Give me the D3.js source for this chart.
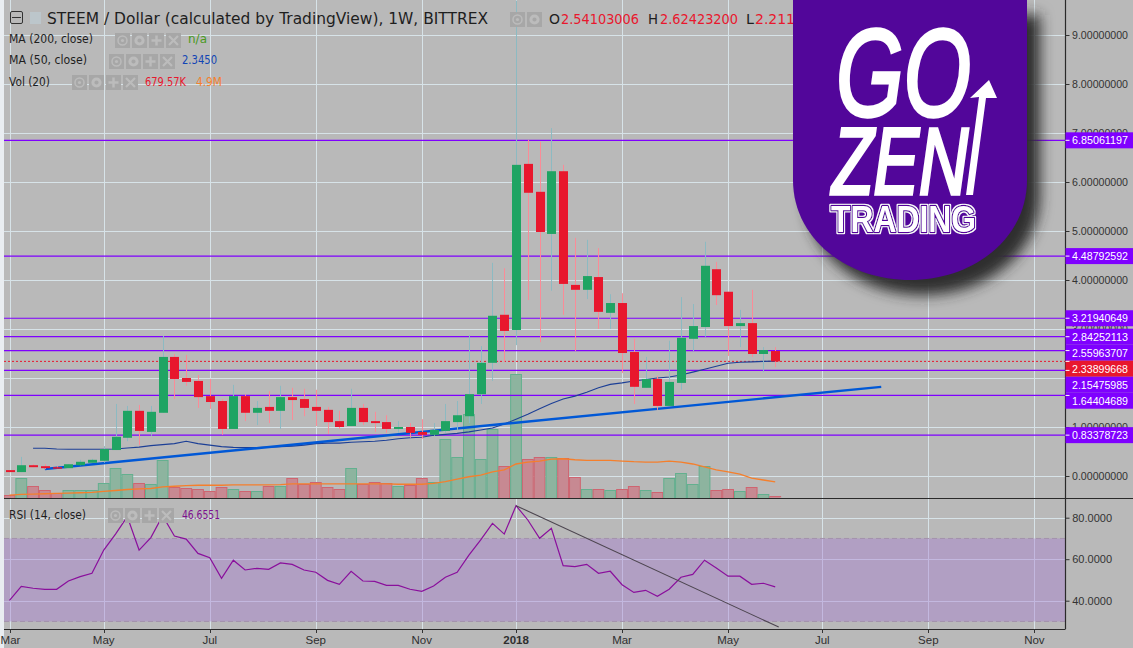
<!DOCTYPE html>
<html><head><meta charset="utf-8">
<script src="https://cdnjs.cloudflare.com/ajax/libs/d3/7.8.5/d3.min.js"></script>
<style>html,body{margin:0;padding:0;background:#b9b9b9;overflow:hidden}svg{display:block}</style>
</head><body><div id="c"></div>
<script>
// Weekly candles, index 0 = first week of March 2017
const open=[.12,.08,.22,.20,.18,.16,.22,.27,.31,.53,.78,1.33,.90,1.29,2.43,2.00,1.94,1.63,1.53,.96,1.63,1.29,1.41,1.33,1.61,1.57,1.41,1.35,1.12,1.02,1.39,1.12,1.10,.96,1.00,.90,.84,.92,1.10,1.22,1.67,2.31,3.29,2.98,6.37,5.80,4.94,6.22,3.90,3.80,4.06,3.33,3.53,2.53,1.80,1.98,1.43,1.90,2.80,3.04,4.22,3.76,3.06,3.12,2.49,2.55];
const close=[.08,.22,.18,.16,.16,.24,.29,.33,.55,.80,1.33,.92,1.31,2.43,1.98,1.92,1.61,1.51,.96,1.63,1.29,1.39,1.33,1.61,1.55,1.39,1.33,1.10,1.00,1.39,1.10,1.08,.96,1.00,.88,.84,.94,1.12,1.24,1.67,2.31,3.27,2.96,6.35,5.78,4.98,6.22,3.92,3.80,4.08,3.35,3.53,2.51,1.82,1.98,1.43,1.92,2.82,3.06,4.29,3.69,3.06,3.12,2.49,2.57,2.339];
const high=[.12,.39,.24,.24,.20,.24,.33,.35,.61,1.47,1.43,1.45,1.43,2.86,2.49,2.47,2.06,1.98,1.57,1.86,1.67,1.53,1.73,1.84,1.80,1.78,1.76,1.41,1.33,1.78,1.47,1.31,1.24,1.12,1.08,1.16,1.08,1.47,1.53,2.88,2.65,4.35,4.24,9.7,6.86,6.82,7.10,6.35,4.86,4.82,4.65,3.71,3.73,2.80,2.43,2.04,2.76,3.65,3.51,4.78,4.37,3.76,3.39,3.80,2.63,2.63];
const low=[.08,.08,.18,.14,.16,.16,.22,.27,.27,.53,.71,.63,.82,1.29,1.57,1.84,1.39,1.37,.84,.96,1.12,1.04,1.08,.96,1.14,1.22,1.02,.86,.96,1.02,1.04,.90,.88,.88,.78,.76,.82,.88,.94,1.08,1.47,1.94,2.33,2.67,3.59,2.73,3.78,3.29,2.55,3.61,3.00,3.00,2.10,1.47,1.80,1.35,1.43,1.76,2.55,2.84,3.49,2.45,2.63,2.43,2.12,2.22];
const volume=[.9,6.1,3.7,2.4,1.5,2.4,2.4,2.4,4.6,9.2,7.3,4.6,4.3,11.6,3.4,3.1,2.8,2.1,3.4,2.8,2.1,2.1,3.7,3.7,6.1,4.3,4.9,3.4,2.8,9.2,4.3,4.9,4.6,3.7,4.0,6.1,4.9,18.0,12.5,25.7,11.9,21.1,9.8,37.9,11.9,12.5,12.5,12.2,6.4,2.8,2.8,2.4,2.8,3.7,2.4,1.8,6.1,7.6,4.3,9.8,2.4,2.8,2.1,3.4,1.2,.68];
const volMA=[.9,1.1,1.2,1.3,1.4,1.5,1.6,1.7,2.0,2.3,2.6,2.8,2.9,3.4,3.6,3.8,3.9,3.9,3.9,4.0,4.0,4.0,4.0,4.1,4.3,4.3,4.3,4.3,4.3,4.3,4.3,4.3,4.3,4.2,4.2,4.2,4.5,5.0,5.8,6.5,7.0,8.0,8.6,10.4,11.0,11.3,11.9,12.0,11.7,11.5,11.5,11.5,11.3,11.1,11.0,11.0,11.3,11.0,10.4,9.5,8.6,8.0,7.3,6.1,5.5,4.9];
const ma50=[null,null,.565,.565,.55,.545,.545,.545,.545,.55,.57,.59,.62,.64,.66,.71,.66,.63,.60,.585,.58,.58,.59,.60,.61,.63,.66,.67,.67,.69,.70,.71,.73,.76,.78,.79,.83,.85,.87,.90,.94,.98,1.06,1.16,1.26,1.37,1.48,1.57,1.63,1.71,1.80,1.87,1.90,1.94,1.97,2.00,2.02,2.06,2.12,2.18,2.24,2.30,2.32,2.33,2.34,2.345];
const rsi=[40.2,46.9,46.0,45.5,45.5,49.5,51.6,53.2,64.4,72.1,80.5,64.4,70.4,81,71.2,69.7,62.8,60.7,50.8,59.5,54.8,55.6,55.1,58.2,57.5,54.8,53.7,49.8,47.9,54.2,49.5,49.3,47.4,47.4,45.5,44.5,47.1,51.3,53.7,62,69.3,77.3,72.1,85.8,78.9,70.1,74.9,56.9,56.4,57.5,53.2,54.2,47.7,44,45,42.1,45.5,51.3,52.7,59.5,55.8,51.8,51.8,47.9,48.4,46.66];
const levels=[6.85061197,4.48792592,3.21940649,2.84252113,2.55963707,2.15475985,1.64404689,0.83378723];
const lastPrice=2.33899668;
const priceTicks=[0,1,2,3,4,5,6,7,8,9];
const rsiTicks=[40,60,80];
const monthLabels=["Mar","May","Jul","Sep","Nov","2018","Mar","May","Jul","Sep","Nov"];
const monthIndex=[0,8,17,26,35,43,52,61,69,78,87];
const priceTrend=[[3,.143],[74,1.82]];
const rsiTrend=[[43,85.8],[65.3,27.3]];

const W=1133,H=648,axisX=1065.5,sepY=498,botY=629,leftX=4;
const BG="#b9b9b9",GRID="#d7e3e8",PURPLE="#7f00ff",UP="#1fa463",DOWN="#e8172d";
const SANS="'Liberation Sans',Arial,sans-serif", UI="'DejaVu Sans',Verdana,sans-serif";

const x=d3.scaleLinear().domain([0,87]).range([9.5,9.5+87*11.78]);
const y=d3.scaleLinear().domain([0,9]).range([476,35]);
const yVol=d3.scaleLinear().domain([0,40]).range([sepY,sepY-130.8]);
const yRsi=d3.scaleLinear().domain([40,80]).range([600.7,517.7]);

const svg=d3.select("#c").append("svg").attr("width",W).attr("height",H);
const defs=svg.append("defs");
defs.append("clipPath").attr("id","clipMain").append("rect").attr("x",leftX).attr("y",0).attr("width",axisX-leftX).attr("height",sepY);
defs.append("clipPath").attr("id","clipRsi").append("rect").attr("x",leftX).attr("y",sepY).attr("width",axisX-leftX).attr("height",botY-sepY);
const blur=defs.append("filter").attr("id","shadow").attr("x","-30%").attr("y","-30%").attr("width","160%").attr("height","160%");
blur.append("feGaussianBlur").attr("stdDeviation",7);
const halo=defs.append("filter").attr("id","halo").attr("x","-10%").attr("y","-30%").attr("width","120%").attr("height","160%");
halo.append("feMorphology").attr("in","SourceAlpha").attr("operator","dilate").attr("radius",1.4).attr("result","fat");
halo.append("feFlood").attr("flood-color","#fff").attr("result","white");
halo.append("feComposite").attr("in","white").attr("in2","fat").attr("operator","in").attr("result","ring");
const hm=halo.append("feMerge");hm.append("feMergeNode").attr("in","ring");hm.append("feMergeNode").attr("in","SourceGraphic");

svg.append("rect").attr("width",W).attr("height",H).attr("fill",BG);
svg.append("rect").attr("width",leftX).attr("height",H).attr("fill","#e9edf1");

// grid
const grid=svg.append("g");
grid.selectAll("line.v").data(monthIndex).join("line").attr("class","v")
  .attr("x1",d=>Math.round(x(d))+.5).attr("x2",d=>Math.round(x(d))+.5)
  .attr("y1",0).attr("y2",botY).attr("stroke",GRID).attr("stroke-width",1);
grid.selectAll("line.h").data(priceTicks).join("line").attr("class","h")
  .attr("x1",leftX).attr("x2",axisX).attr("y1",d=>Math.round(y(d))+.5).attr("y2",d=>Math.round(y(d))+.5)
  .attr("stroke",GRID);
grid.selectAll("line.r").data(rsiTicks).join("line").attr("class","r")
  .attr("x1",leftX).attr("x2",axisX).attr("y1",d=>Math.round(yRsi(d))+.5).attr("y2",d=>Math.round(yRsi(d))+.5)
  .attr("stroke",GRID);

// main pane
const main=svg.append("g").attr("clip-path","url(#clipMain)");
main.selectAll("rect.vol").data(volume).join("rect").attr("class","vol")
  .attr("x",(d,i)=>x(i)-5.4).attr("width",10.8)
  .attr("y",d=>Math.round(yVol(d))+.5).attr("height",d=>Math.max(0,sepY-Math.round(yVol(d))))
  .attr("fill",(d,i)=>close[i]>=open[i]?"#8db49f":"#c78992")
  .attr("stroke",(d,i)=>close[i]>=open[i]?"#63b08f":"#cf6470").attr("stroke-width",1);
main.append("path").datum(volMA).attr("fill","none").attr("stroke","#f57f2c").attr("stroke-width",1.3)
  .attr("d",d3.line().x((d,i)=>x(i)).y(d=>yVol(d)));
main.selectAll("line.lvl").data(levels).join("line").attr("class","lvl")
  .attr("x1",leftX).attr("x2",axisX).attr("y1",d=>y(d)).attr("y2",d=>y(d))
  .attr("stroke",PURPLE).attr("stroke-width",1.2);
main.append("line").attr("x1",leftX).attr("x2",axisX).attr("y1",y(lastPrice)).attr("y2",y(lastPrice))
  .attr("stroke",DOWN).attr("stroke-dasharray","2 2").attr("stroke-width",1);
main.append("path").datum(ma50).attr("fill","none").attr("stroke","#1c3f96").attr("stroke-width",1.1)
  .attr("d",d3.line().defined(d=>d!=null).x((d,i)=>x(i)).y(d=>y(d)));
main.append("path").datum(priceTrend).attr("fill","none").attr("stroke","#0058d6").attr("stroke-width",2.4)
  .attr("d",d3.line().x(d=>x(d[0])).y(d=>y(d[1])));
main.selectAll("line.wick").data(high).join("line").attr("class","wick")
  .attr("x1",(d,i)=>Math.round(x(i))+.5).attr("x2",(d,i)=>Math.round(x(i))+.5)
  .attr("y1",d=>y(d)).attr("y2",(d,i)=>y(low[i]))
  .attr("stroke",(d,i)=>close[i]>=open[i]?"#8cbac2":"#fb8b97").attr("stroke-width",1);
main.selectAll("rect.body").data(open).join("rect").attr("class","body")
  .attr("x",(d,i)=>Math.round(x(i))-4).attr("width",9)
  .attr("y",(d,i)=>y(Math.max(open[i],close[i])))
  .attr("height",(d,i)=>Math.max(1.5,Math.abs(y(open[i])-y(close[i]))))
  .attr("fill",(d,i)=>close[i]>=open[i]?UP:DOWN);

// RSI pane
const pane=svg.append("g").attr("clip-path","url(#clipRsi)");
pane.append("rect").attr("x",leftX).attr("width",axisX-leftX).attr("y",yRsi(70)).attr("height",yRsi(30)-yRsi(70))
  .attr("fill","rgb(165,120,210)").attr("fill-opacity",.4);
[70,30].forEach(v=>pane.append("line").attr("x1",leftX).attr("x2",axisX).attr("y1",yRsi(v)).attr("y2",yRsi(v))
  .attr("stroke","#a392ad").attr("stroke-dasharray","5 3"));
pane.append("path").datum(rsi).attr("fill","none").attr("stroke","#8a0f9c").attr("stroke-width",1.2)
  .attr("d",d3.line().x((d,i)=>x(i)).y(d=>yRsi(d)));
pane.append("path").datum(rsiTrend).attr("fill","none").attr("stroke","#4d4650").attr("stroke-width",1.1)
  .attr("d",d3.line().x(d=>x(d[0])).y(d=>yRsi(d[1])));

// frame
svg.append("line").attr("x1",leftX).attr("x2",W).attr("y1",sepY+.5).attr("y2",sepY+.5).attr("stroke","#2a2a2a").attr("stroke-width",1.2);
svg.append("line").attr("x1",leftX).attr("x2",axisX).attr("y1",botY+.5).attr("y2",botY+.5).attr("stroke","#2a2a2a").attr("stroke-width",1.2);
svg.append("line").attr("x1",axisX).attr("x2",axisX).attr("y1",0).attr("y2",botY).attr("stroke","#2a2a2a").attr("stroke-width",1.2);

// bottom axis
const gx=svg.append("g");
gx.selectAll("line").data(monthIndex).join("line")
  .attr("x1",d=>Math.round(x(d))+.5).attr("x2",d=>Math.round(x(d))+.5).attr("y1",botY).attr("y2",botY+4).attr("stroke","#333");
gx.selectAll("text").data(monthLabels).join("text")
  .attr("x",(d,i)=>x(monthIndex[i])+(i===0?1:0)).attr("y",644).attr("text-anchor","middle")
  .attr("font-family",SANS).attr("font-size",11.5).attr("font-weight",d=>d==="2018"?"bold":"normal")
  .attr("fill","#2f2f2f").text(d=>d);

// price labels, pushed down so that they do not overlap
const tags=levels.map(v=>({v,c:PURPLE})).concat([{v:lastPrice,c:DOWN}]).sort((a,b)=>b.v-a.v);
let prev=-Infinity;
tags.forEach(t=>{t.cy=Math.max(y(t.v),prev+16);prev=t.cy;});
const hiddenByTags=v=>d3.range(y(v)-4,y(v)+4).every(p=>tags.some(t=>p>=t.cy-8.5&&p<=t.cy+8.5));

// right axes
const fmtP=d3.format(".8f"), fmtR=d3.format(".4f");
const gy=svg.append("g");
gy.selectAll("line.p").data(priceTicks).join("line").attr("class","p")
  .attr("x1",axisX).attr("x2",axisX+4).attr("y1",d=>y(d)+.5).attr("y2",d=>y(d)+.5).attr("stroke","#333");
gy.selectAll("text.p").data(priceTicks.filter(v=>!hiddenByTags(v))).join("text").attr("class","p")
  .attr("x",1072).attr("y",d=>y(d)+4)
  .attr("font-family",SANS).attr("font-size",11).attr("fill","#333")
  .attr("textLength",56).attr("lengthAdjust","spacingAndGlyphs").text(d=>fmtP(d));
gy.selectAll("line.r").data(rsiTicks).join("line").attr("class","r")
  .attr("x1",axisX).attr("x2",axisX+4).attr("y1",d=>yRsi(d)+.5).attr("y2",d=>yRsi(d)+.5).attr("stroke","#333");
gy.selectAll("text.r").data(rsiTicks).join("text").attr("class","r")
  .attr("x",1112).attr("y",d=>yRsi(d)+4).attr("text-anchor","end")
  .attr("font-family",SANS).attr("font-size",11).attr("fill","#333").text(d=>fmtR(d));

const tg=svg.append("g").selectAll("g").data(tags).join("g");
tg.append("rect").attr("x",axisX).attr("width",W-axisX).attr("y",d=>d.cy-8).attr("height",16).attr("fill",d=>d.c);
tg.append("line").attr("x1",axisX).attr("x2",axisX+4).attr("y1",d=>y(d.v)).attr("y2",d=>y(d.v)).attr("stroke","#fff");
tg.append("text").attr("x",1072).attr("y",d=>d.cy+4)
  .attr("font-family",SANS).attr("font-size",11).attr("fill","#fff")
  .attr("textLength",56).attr("lengthAdjust","spacingAndGlyphs").text(d=>fmtP(d.v));

// header
function icons(x0,y0,glyphs,step,size){
  glyphs.forEach((g,k)=>{
    const bx=x0+k*step, cx=bx+size/2, cy=y0+size/2, c="#bcbcbc";
    svg.append("rect").attr("x",bx).attr("y",y0).attr("width",size).attr("height",size).attr("fill","#a7a7a7");
    if(g==="eye"){svg.append("circle").attr("cx",cx).attr("cy",cy).attr("r",4.5).attr("fill","none").attr("stroke",c).attr("stroke-width",1.5);
      svg.append("circle").attr("cx",cx).attr("cy",cy).attr("r",1.6).attr("fill",c);}
    if(g==="gear"){svg.append("circle").attr("cx",cx).attr("cy",cy).attr("r",3.6).attr("fill","none").attr("stroke",c).attr("stroke-width",3);}
    if(g==="plus"){svg.append("path").attr("d",`M${cx-5} ${cy}H${cx+5}M${cx} ${cy-5}V${cy+5}`).attr("stroke",c).attr("stroke-width",2.5);}
    if(g==="x"){svg.append("path").attr("d",`M${cx-4.5} ${cy-4.5}L${cx+4.5} ${cy+4.5}M${cx+4.5} ${cy-4.5}L${cx-4.5} ${cy+4.5}`).attr("stroke",c).attr("stroke-width",2.2);}
  });
}
const label=(t,px,py,size,fill,fam,len)=>{const e=svg.append("text").attr("x",px).attr("y",py).attr("font-family",fam||UI).attr("font-size",size).attr("fill",fill).text(t);
  if(len)e.attr("textLength",len).attr("lengthAdjust","spacingAndGlyphs");return e;};

svg.append("rect").attr("x",10.5).attr("y",11.5).attr("width",12).attr("height",12).attr("rx",1.5).attr("fill","none").attr("stroke","#333");
svg.append("line").attr("x1",12).attr("x2",21).attr("y1",17.5).attr("y2",17.5).attr("stroke","#333");
svg.append("rect").attr("x",30).attr("y",12).attr("width",11).attr("height",12).attr("fill","#bcc6cb");
label("STEEM / Dollar (calculated by TradingView), 1W, BITTREX",47,24,15,"#1e1e1e",UI,441);
const four=["eye","gear","plus","x"];
icons(510,12,["eye","gear"],17,15);
label("O",549,24,14.5,"#1e1e1e",UI,11);label("2.54103006",561,24,14.5,DOWN,UI,78);
label("H",648,24,14.5,"#1e1e1e",UI,10);label("2.62423200",660,24,14.5,DOWN,UI,78);
label("L",746,24,14.5,"#1e1e1e",UI,8);label("2.211",755,24,14.5,DOWN,UI,40);

label("MA (200, close)",9,43,12,"#1e1e1e",UI,84);icons(115,33,four,17,15);label("n/a",188,43,12,"#4a9a1e",UI,19);
label("MA (50, close)",9,64,12,"#1e1e1e",UI,78);icons(109,54,four,17,15);label("2.3450",182,64,12,"#1245b5",UI,35);
label("Vol (20)",9,86,12,"#1e1e1e",UI,41);icons(72,75,four,17,15);label("679.57K",145,86,12,DOWN,UI,41);label("4.9M",196,86,12,"#f57f2c",UI,26);
label("RSI (14, close)",9,519,12,"#1e1e1e",UI,77);icons(108,508,four,17,15);label("46.6551",182,519,12,"#7d0f8f",UI,38);

// logo
const shield="M793 0H1027V180C1027 238 974 280 910 280C846 280 793 238 793 180Z";
svg.append("path").attr("d",shield).attr("transform","translate(13,15)").attr("fill","#2e2e2e").attr("filter","url(#shadow)");
svg.append("path").attr("d",shield).attr("fill","#52069a");
const big=(t,px,py,size,len)=>svg.append("text").attr("x",px).attr("y",py).attr("font-family",SANS).attr("font-style","italic")
  .attr("font-size",size).attr("fill","#fff").attr("stroke","#fff").attr("stroke-width",3.5).attr("textLength",len).attr("lengthAdjust","spacingAndGlyphs").text(t);
big("GO",836,116,124,135);
big("ZEN",832,194,94,136);
svg.append("path").attr("d","M966 195H973L986 98H997L989 80L970 98L979 97Z").attr("fill","#fff");
svg.append("text").attr("x",831).attr("y",232).attr("font-family",SANS).attr("font-weight","bold").attr("font-size",37)
  .attr("fill","#fff").attr("stroke","#52069a").attr("stroke-width",2.6).attr("stroke-linejoin","round").attr("paint-order","stroke")
  .attr("textLength",145).attr("lengthAdjust","spacingAndGlyphs").attr("filter","url(#halo)").text("TRADING");
</script></body></html>
